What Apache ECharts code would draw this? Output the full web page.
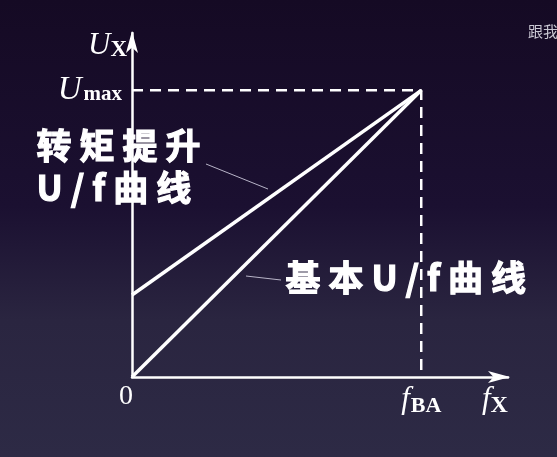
<!DOCTYPE html>
<html><head><meta charset="utf-8">
<script src="https://cdn.jsdelivr.net/npm/echarts@6/dist/echarts.min.js"></script>
<style>html,body{margin:0;padding:0;background:#160b25}#c{width:557px;height:457px}</style>
</head><body><div id="c"></div>
<script>
// Data (normalised: f_BA = 1, U_max = 1)
const freqPoints = [0, 1];
const basicCurve = [0, 1];        // 基本U/f曲线
const boostCurve = [0.286, 1];    // 转矩提升U/f曲线
const guideX = [0, 1, 1];
const guideY = [1, 1, 0];
const xTickLabels = {0: '{z|0}', 1: '{f|f}{s|BA}'};
const yTickLabels = {1: '{u|U}{s|max}'};

const chart = echarts.init(document.getElementById('c'), null, {renderer: 'canvas'});
const serif = '"Liberation Serif","DejaVu Serif",serif';
const cjk = '"Noto Sans CJK SC","Noto Sans",sans-serif';
const white = '#ffffff';

chart.setOption({
  backgroundColor: {type: 'linear', x: 0, y: 0, x2: 0, y2: 1, colorStops: [
    {offset: 0, color: '#150a24'}, {offset: 0.45, color: '#1b1031'},
    {offset: 0.7, color: '#2a2540'}, {offset: 1, color: '#2d2a45'}]},
  animation: false,
  grid: {left: 132, top: 33, width: 376, height: 344, containLabel: false},
  xAxis: {
    type: 'value', min: 0, max: 1.3, interval: 1,
    axisLine: {show: true, symbol: ['none', 'arrow'], symbolSize: [9, 22], symbolOffset: [0, 2],
      lineStyle: {color: white, width: 2.5}},
    axisTick: {show: false}, splitLine: {show: false},
    axisLabel: {showMaxLabel: false, margin: 6,
      formatter: v => xTickLabels[v] || '',
      color: white, fontFamily: serif, fontSize: 24,
      rich: {
        z: {fontFamily: serif, fontSize: 28, color: white, padding: [0, 12, 0, 0]},
        f: {fontFamily: serif, fontStyle: 'italic', fontSize: 31, color: white},
        s: {fontFamily: serif, fontWeight: 'bold', fontSize: 22, color: white, padding: [12, 0, 0, 1]}
      }
    }
  },
  yAxis: {
    type: 'value', min: 0, max: 1.2, interval: 1,
    axisLine: {show: true, symbol: ['none', 'arrow'], symbolSize: [9, 22], symbolOffset: [0, 2],
      lineStyle: {color: white, width: 2.5}},
    axisTick: {show: false}, splitLine: {show: false},
    axisLabel: {showMaxLabel: false, margin: 10,
      formatter: v => yTickLabels[v] || '',
      color: white,
      rich: {
        u: {fontFamily: serif, fontStyle: 'italic', fontSize: 33, color: white},
        s: {fontFamily: serif, fontWeight: 'bold', fontSize: 21, color: white, padding: [8, 0, 0, 2]}
      }
    }
  },
  series: [
    {type: 'line', data: guideX.map((x, i) => [x, guideY[i]]), symbol: 'none',
      lineStyle: {color: white, width: 2.5, type: [11, 7]}, z: 1},
    {type: 'line', data: freqPoints.map((x, i) => [x, basicCurve[i]]), symbol: 'none',
      lineStyle: {color: white, width: 3.5}, z: 3},
    {type: 'line', data: freqPoints.map((x, i) => [x, boostCurve[i]]), symbol: 'none',
      lineStyle: {color: white, width: 3.5}, z: 3}
  ],
  graphic: [
    {type: 'text', left: 88, top: 30, style: {text: '{u|U}{s|X}', fill: white,
      rich: {u: {fontFamily: serif, fontStyle: 'italic', fontSize: 31, fill: white},
             s: {fontFamily: serif, fontWeight: 'bold', fontSize: 23, fill: white, padding: [10, 0, 0, 0]}}}},
    {type: 'text', left: 482, top: 384, style: {text: '{f|f}{s|X}', fill: white,
      rich: {f: {fontFamily: serif, fontStyle: 'italic', fontSize: 31, fill: white},
             s: {fontFamily: serif, fontWeight: 'bold', fontSize: 24, fill: white, padding: [12, 0, 0, 0]}}}},
    {type: 'text', left: 36, top: 125, style: {text: '转 矩 提 升\nU / f 曲 线', fill: white,
      font: 'bold 35px ' + cjk, lineHeight: 42, stroke: white, lineWidth: 1.2,
      shadowColor: 'rgba(0,0,0,0.6)', shadowBlur: 3}},
    {type: 'text', left: 285, top: 260, style: {text: '基 本 U / f 曲 线', fill: white,
      font: 'bold 35px ' + cjk, stroke: white, lineWidth: 1.2,
      shadowColor: 'rgba(0,0,0,0.6)', shadowBlur: 3}},
    {type: 'line', shape: {x1: 206, y1: 164, x2: 268, y2: 189}, style: {stroke: '#b8b4c8', lineWidth: 1}},
    {type: 'line', shape: {x1: 246, y1: 276, x2: 281, y2: 280}, style: {stroke: '#b8b4c8', lineWidth: 1}},
    {type: 'text', left: 528, top: 24, style: {text: '跟我学', fill: '#c9c7d2', font: '15px ' + cjk}}
  ]
});
</script></body></html>
